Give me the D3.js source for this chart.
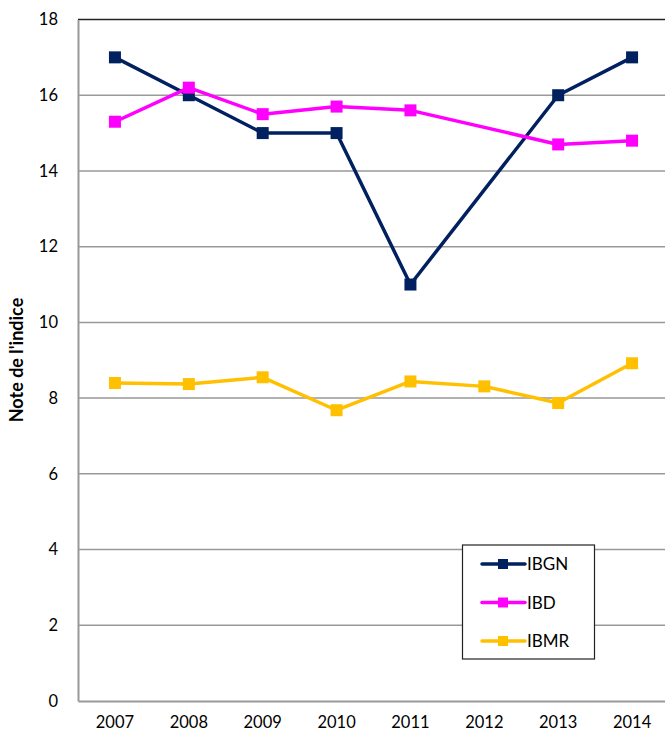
<!DOCTYPE html>
<html><head><meta charset="utf-8">
<script src="https://cdn.jsdelivr.net/npm/d3@7"></script>
<style>body{margin:0;background:#fff;}svg{display:block;font-family:Lato,"Open Sans",sans-serif;}</style>
</head><body>
<svg id="c" width="665" height="739"></svg>
<script>
const years = ["2007","2008","2009","2010","2011","2012","2013","2014"];
const ibgn = [17, 16, 15, 15, 11, null, 16, 17];
const ibd = [15.3, 16.2, 15.5, 15.7, 15.6, null, 14.7, 14.8];
const ibmr = [8.4, 8.37, 8.55, 7.68, 8.44, 8.31, 7.87, 8.92];
const yTicks = [0, 2, 4, 6, 8, 10, 12, 14, 16, 18];
const seriesNames = ["IBGN", "IBD", "IBMR"];
const seriesColors = ["#002060", "#FF00FF", "#FFC000"];

const series = [ibgn, ibd, ibmr].map((v, i) => ({name: seriesNames[i], color: seriesColors[i], values: v}));

const svg = d3.select("#c");
const L = 78, R = 669, T = 19.5, B = 701;
const x = d3.scaleBand().domain(years).range([L, R]);
const y = d3.scaleLinear().domain([0, 18]).range([B, T]);

// gridlines
svg.append("g").selectAll("line").data(yTicks.filter(t => t > 0 && t < 18)).join("line")
  .attr("x1", L).attr("x2", R).attr("y1", d => y(d)).attr("y2", d => y(d))
  .attr("stroke", "#999").attr("stroke-width", 1.5);
// top border
svg.append("line").attr("x1", L).attr("x2", R).attr("y1", y(18)).attr("y2", y(18)).attr("stroke", "#222").attr("stroke-width", 1.5);

// y axis
const ya = svg.append("g").attr("transform", `translate(${L},0)`)
  .call(d3.axisLeft(y).tickValues(yTicks).tickSize(0).tickPadding(20));
ya.select(".domain").attr("stroke", "#999").attr("stroke-width", 2);
ya.selectAll("text").attr("font-size", 16.5).attr("fill", "#000").attr("font-family", "Lato, sans-serif");

// x axis
const xa = svg.append("g").attr("transform", `translate(0,${B})`)
  .call(d3.axisBottom(x).tickSize(0).tickPadding(15));
xa.select(".domain").attr("stroke", "#999").attr("stroke-width", 2);
xa.selectAll("text").attr("font-size", 16.5).attr("fill", "#000").attr("font-family", "Lato, sans-serif");

// y title
svg.append("text").attr("transform", "translate(23,360) rotate(-90)")
  .attr("text-anchor", "middle").attr("font-size", 18).attr("font-weight", "bold").text("Note de l'indice");

const cx = d => x(d) + x.bandwidth() / 2;
const line = d3.line().x(d => cx(d.year)).y(d => y(d.v));

series.forEach(s => {
  const pts = s.values.map((v, i) => ({year: years[i], v})).filter(d => d.v != null);
  svg.append("path").datum(pts).attr("d", line).attr("fill", "none")
    .attr("stroke", s.color).attr("stroke-width", 3.5).attr("stroke-linejoin", "round");
  svg.append("g").selectAll("rect").data(pts).join("rect")
    .attr("x", d => cx(d.year) - 6).attr("y", d => y(d.v) - 6)
    .attr("width", 12).attr("height", 12).attr("fill", s.color);
});

// legend
const lg = svg.append("g");
lg.append("rect").attr("x", 462.5).attr("y", 545).attr("width", 132).attr("height", 114)
  .attr("fill", "#fff").attr("stroke", "#222").attr("stroke-width", 1.2);
series.forEach((s, i) => {
  const yy = 564 + i * 38.5;
  lg.append("line").attr("x1", 482).attr("x2", 525).attr("y1", yy).attr("y2", yy)
    .attr("stroke", s.color).attr("stroke-width", 3.5).attr("stroke-linecap", "round");
  lg.append("rect").attr("x", 498).attr("y", yy - 5).attr("width", 10).attr("height", 10).attr("fill", s.color);
  lg.append("text").attr("x", 527).attr("y", yy + 6).attr("font-size", 17).attr("font-family", "Lato, sans-serif").text(s.name);
});
</script>
</body></html>
